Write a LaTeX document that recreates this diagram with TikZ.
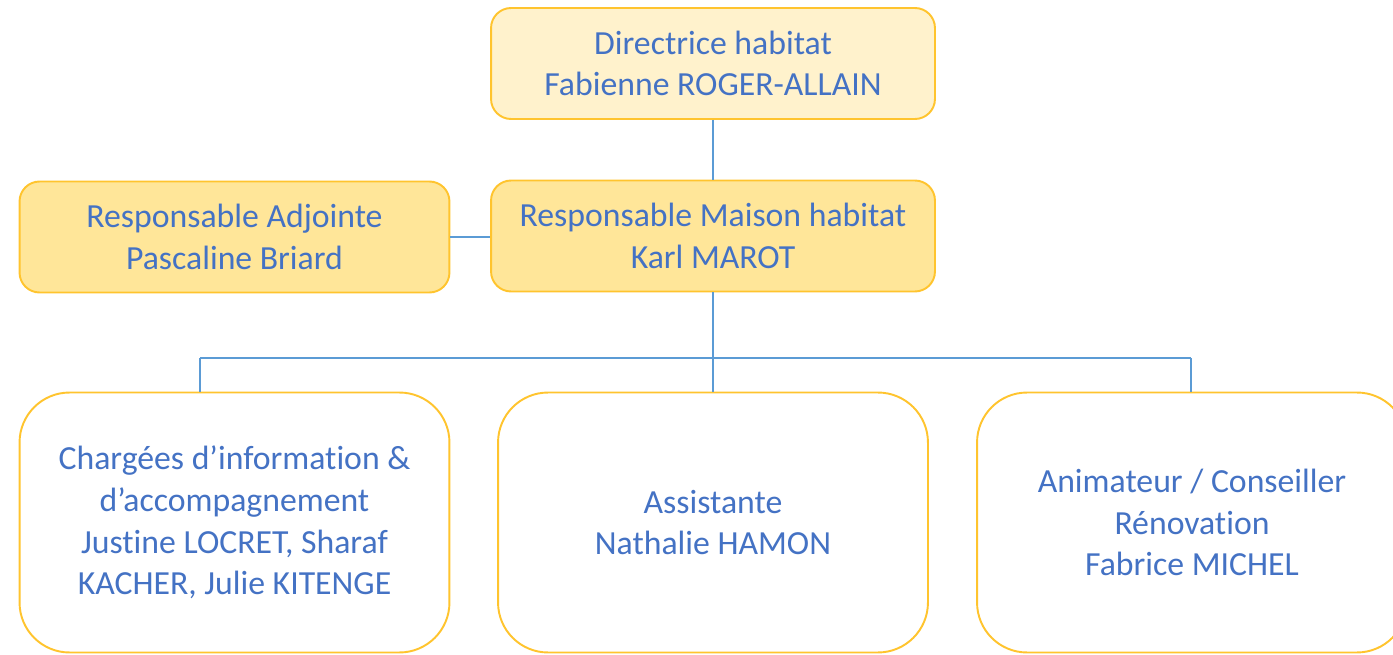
\documentclass[tikz,border=0pt]{standalone}
\usepackage{fontspec}
\setmainfont{Carlito}[Ligatures={NoCommon,NoRare}]
\usepackage[HTML]{xcolor}
\usepackage{tikz}
\usetikzlibrary{positioning}

\definecolor{txtblue}{HTML}{4472C4}
\definecolor{linkblue}{HTML}{5B9BD5}
\definecolor{gold}{HTML}{FFC42E}
\definecolor{paleyellow}{HTML}{FFF2CC}
\definecolor{midyellow}{HTML}{FFE699}

\tikzset{
  orgbox/.style={draw=gold, line width=1.1pt, align=center, text=txtblue,
    font=\fontsize{19.2}{23.8}\selectfont, inner sep=0pt},
  headbox/.style={orgbox, fill=paleyellow, rounded corners=0.4cm,
    minimum width=8.88cm, minimum height=2.22cm},
  leadbox/.style={orgbox, fill=midyellow, rounded corners=0.4cm,
    minimum width=8.6cm, minimum height=2.22cm},
  staffbox/.style={orgbox, fill=white, rounded corners=1cm,
    minimum width=8.6cm, minimum height=5.2cm},
  link/.style={draw=linkblue, line width=0.8pt}
}

\begin{document}
\begin{tikzpicture}[x=0.02cm, y=-0.02cm]
\useasboundingbox (0,0) rectangle (1393,655);
\clip (0,0) rectangle (1393,655);

% top and middle rows
\node[headbox] (dir) at (713,63.5) {Directrice habitat\\Fabienne ROGER-ALLAIN};
\node[leadbox, minimum width=8.88cm] (resp) at (713,236) {Responsable Maison habitat\\Karl MAROT};
\node[leadbox] (adj) at (234.5,237) {Responsable Adjointe\\Pascaline Briard};

% bottom row
\node[staffbox] (charg) at (234.5,522.5) {Chargées d’information \&\\d’accompagnement\\Justine LOCRET, Sharaf\\KACHER, Julie KITENGE};
\node[staffbox] (asst) at (713,522.5) {Assistante\\Nathalie HAMON};
\node[staffbox] (anim) at (1192,522.5) {Animateur / Conseiller\\Rénovation\\Fabrice MICHEL};

% links
\coordinate (jL) at (200,358);
\coordinate (jR) at (1191,358);
\draw[link] (dir.south) -- (resp.north);
\draw[link] (adj.east) -- (adj.east -| resp.west);
\draw[link] (resp.south) -- (asst.north);
\draw[link] (jL) -- (jR);
\draw[link] (jL) -- (jL |- charg.north);
\draw[link] (jR) -- (jR |- anim.north);
\end{tikzpicture}
\end{document}
